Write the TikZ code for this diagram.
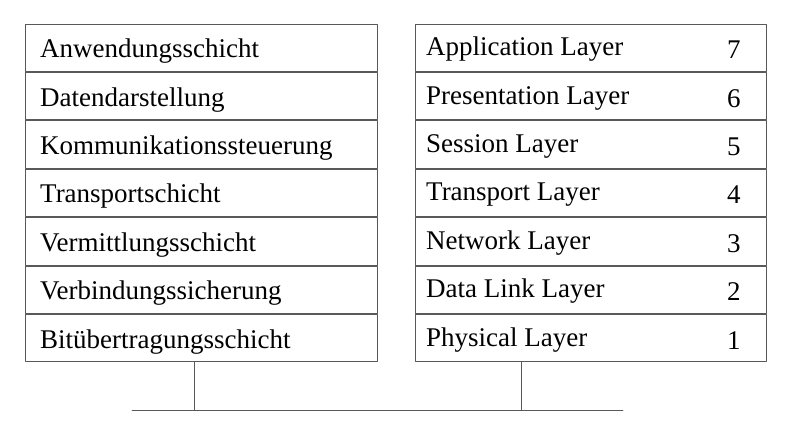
\documentclass[tikz,border=0pt]{standalone}
\usepackage{fontspec}
\setmainfont{Liberation Serif}
\usetikzlibrary{calc}

\begin{document}
\begin{tikzpicture}[x=1pt, y=-1pt, line join=round, line cap=round]

			\tikzset{layer/.style={draw=black!65, line width=0.9pt, minimum height=47.5pt, inner sep=0pt},
				txt/.style={font=\fontsize{27}{30}\selectfont, inner sep=0pt, anchor=base west},
				num/.style={font=\fontsize{27}{30}\selectfont, inner sep=0pt, anchor=base},
				wire/.style={draw=black!65, line width=0.9pt}}

			\useasboundingbox (0,0) rectangle (800,434);

			% deutsche Bezeichnungen
			\node[layer, minimum width=352pt, anchor=north west] (de7) at (25,23.5) {};
			\node[layer, minimum width=352pt, anchor=north] (de6) at (de7.south) {};
			\node[layer, minimum width=352pt, anchor=north] (de5) at (de6.south) {};
			\node[layer, minimum width=352pt, anchor=north] (de4) at (de5.south) {};
			\node[layer, minimum width=352pt, anchor=north] (de3) at (de4.south) {};
			\node[layer, minimum width=352pt, anchor=north] (de2) at (de3.south) {};
			\node[layer, minimum width=352pt, anchor=north] (de1) at (de2.south) {};

			\node[txt] (tde7) at ($(de7.west)+(15,10)$) {Anwendungsschicht};
			\node[txt] (tde6) at ($(de6.west)+(15,10)$) {Datendarstellung};
			\node[txt] (tde5) at ($(de5.west)+(15,10)$) {Kommunikationssteuerung};
			\node[txt] (tde4) at ($(de4.west)+(15,10)$) {Transportschicht};
			\node[txt] (tde3) at ($(de3.west)+(15,10)$) {Vermittlungsschicht};
			\node[txt] (tde2) at ($(de2.west)+(15,10)$) {Verbindungssicherung};
			\node[txt] (tde1) at ($(de1.west)+(15,10)$) {Bitübertragungsschicht};

			% englische Bezeichnungen
			\node[layer, minimum width=351pt, anchor=north west] (en7) at (415,23.5) {};
			\node[layer, minimum width=351pt, anchor=north] (en6) at (en7.south) {};
			\node[layer, minimum width=351pt, anchor=north] (en5) at (en6.south) {};
			\node[layer, minimum width=351pt, anchor=north] (en4) at (en5.south) {};
			\node[layer, minimum width=351pt, anchor=north] (en3) at (en4.south) {};
			\node[layer, minimum width=351pt, anchor=north] (en2) at (en3.south) {};
			\node[layer, minimum width=351pt, anchor=north] (en1) at (en2.south) {};

			\node[txt] (ten7) at ($(en7.west)+(11,8)$) {Application Layer};
			\node[txt] (ten6) at ($(en6.west)+(11,8)$) {Presentation Layer};
			\node[txt] (ten5) at ($(en5.west)+(11,8)$) {Session Layer};
			\node[txt] (ten4) at ($(en4.west)+(11,8)$) {Transport Layer};
			\node[txt] (ten3) at ($(en3.west)+(11,8)$) {Network Layer};
			\node[txt] (ten2) at ($(en2.west)+(11,8)$) {Data Link Layer};
			\node[txt] (ten1) at ($(en1.west)+(11,8)$) {Physical Layer};

			\node[num] (n7) at ($(en7.east)+(-33,11)$) {7};
			\node[num] (n6) at ($(en6.east)+(-33,11)$) {6};
			\node[num] (n5) at ($(en5.east)+(-33,11)$) {5};
			\node[num] (n4) at ($(en4.east)+(-33,11)$) {4};
			\node[num] (n3) at ($(en3.east)+(-33,11)$) {3};
			\node[num] (n2) at ($(en2.east)+(-33,11)$) {2};
			\node[num] (n1) at ($(en1.east)+(-33,11)$) {1};

			% Medium
			\coordinate (busL) at (132,410.5);
			\coordinate (busR) at (623,410.5);
			\coordinate (jde) at (194,410.5);
			\coordinate (jen) at (521,410.5);

			\draw[wire] (busL)--(busR);
			\draw[wire] (de1.south -| jde)--(jde);
			\draw[wire] (en1.south -| jen)--(jen);

	\end{tikzpicture}
\end{document}
